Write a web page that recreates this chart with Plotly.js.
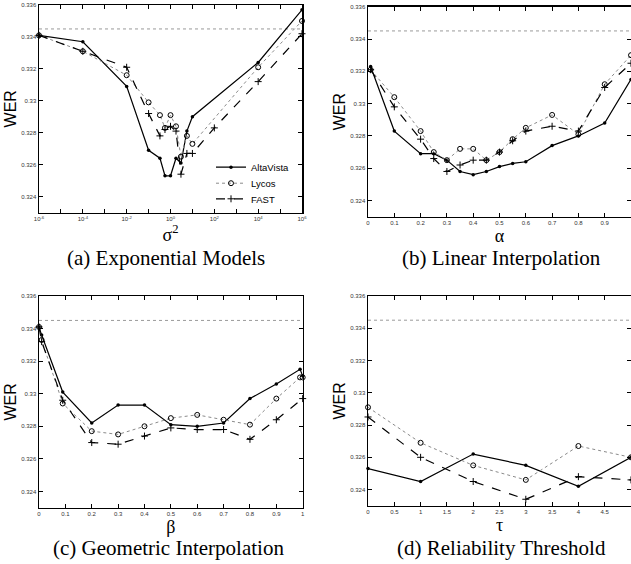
<!DOCTYPE html>
<html><head><meta charset="utf-8">
<script src="https://cdn.plot.ly/plotly-3.0.1.min.js"></script>
<style>html,body{margin:0;padding:0;background:#fff}</style>
</head><body><div id="chart" style="width:631px;height:564px"></div>
<script>
const seriesNames = ['AltaVista', 'Lycos', 'FAST'];
const baselineWER = 0.3345;

// (a) Exponential Models
const sigma2 = [1e-6, 1e-4, 1e-2, 0.1, 0.33, 0.56, 1, 1.78, 3, 5.6, 10, 1e4, 1e6];
const sigma2Fast = [1e-6, 1e-4, 1e-2, 0.1, 0.33, 0.56, 1, 1.78, 3, 5.6, 10, 100, 1e4, 1e6];
const werA_alta  = [0.3341, 0.3337, 0.3309, 0.3269, 0.3264, 0.3253, 0.3253, 0.3264, 0.3261, 0.3281, 0.3290, 0.3324, 0.3357];
const werA_lycos = [0.3341, 0.3331, 0.3316, 0.3299, 0.3291, 0.3283, 0.3291, 0.3284, 0.3265, 0.3278, 0.3273, 0.3321, 0.3350];
const werA_fast  = [0.3341, 0.3331, 0.3321, 0.3292, 0.3278, 0.3282, 0.3284, 0.3281, 0.3254, 0.3267, 0.3267, 0.3283, 0.3312, 0.3342];

// (b) Linear Interpolation
const alpha = [0.01, 0.1, 0.2, 0.25, 0.3, 0.35, 0.4, 0.45, 0.5, 0.55, 0.6, 0.7, 0.8, 0.9, 1.0];
const werB_alta  = [0.3323, 0.3283, 0.3269, 0.3269, 0.3265, 0.3258, 0.3256, 0.3258, 0.3261, 0.3263, 0.3264, 0.3274, 0.3280, 0.3288, 0.3315];
const werB_lycos = [0.3321, 0.3304, 0.3283, 0.3270, 0.3265, 0.3272, 0.3272, 0.3265, 0.3270, 0.3278, 0.3285, 0.3293, 0.3281, 0.3312, 0.3330];
const werB_fast  = [0.3321, 0.3298, 0.3278, 0.3266, 0.3258, 0.3262, 0.3265, 0.3265, 0.3270, 0.3277, 0.3283, 0.3286, 0.3283, 0.3310, 0.3325];

// (c) Geometric Interpolation
const beta = [0, 0.01, 0.09, 0.2, 0.3, 0.4, 0.5, 0.6, 0.7, 0.8, 0.9, 0.99, 1.0];
const betaFast = [0, 0.01, 0.09, 0.2, 0.3, 0.4, 0.5, 0.6, 0.7, 0.8, 0.9, 1.0];
const werC_alta  = [0.3341, 0.3336, 0.3301, 0.3282, 0.3293, 0.3293, 0.3281, 0.3280, 0.3282, 0.3297, 0.3306, 0.3315, 0.3311];
const werC_lycos = [0.3341, 0.3333, 0.3294, 0.3277, 0.3275, 0.3280, 0.3285, 0.3287, 0.3284, 0.3281, 0.3297, 0.3310, 0.3310];
const werC_fast  = [0.3341, 0.3332, 0.3296, 0.3270, 0.3269, 0.3274, 0.3279, 0.3278, 0.3278, 0.3272, 0.3284, 0.3297];

// (d) Reliability Threshold
const tau = [0, 1, 2, 3, 4, 5];
const werD_alta  = [0.3253, 0.3245, 0.3262, 0.3255, 0.3242, 0.3260];
const werD_lycos = [0.3291, 0.3269, 0.3255, 0.3246, 0.3267, 0.3260];
const werD_fast  = [0.3285, 0.3260, 0.3245, 0.3234, 0.3248, 0.3246];

const yTickVals = [0.324, 0.326, 0.328, 0.330, 0.332, 0.334, 0.336];
const yTickText = ['0.324', '0.326', '0.328', '0.33', '0.332', '0.334', '0.336'];
const xTicksA = [1e-6, 1e-4, 1e-2, 1, 100, 1e4, 1e6];
const xTickTextA = ['10<sup>-6</sup>', '10<sup>-4</sup>', '10<sup>-2</sup>', '10<sup>0</sup>', '10<sup>2</sup>', '10<sup>4</sup>', '10<sup>6</sup>'];
const xMinorA = [1e-5, 1e-3, 1e-1, 10, 1e3, 1e5];
const xTicksB = [0, 0.1, 0.2, 0.3, 0.4, 0.5, 0.6, 0.7, 0.8, 0.9];
const xTickTextB = ['0', '0.1', '0.2', '0.3', '0.4', '0.5', '0.6', '0.7', '0.8', '0.9'];
const xTicksC = [0, 0.1, 0.2, 0.3, 0.4, 0.5, 0.6, 0.7, 0.8, 0.9, 1];
const xTickTextC = ['0', '0.1', '0.2', '0.3', '0.4', '0.5', '0.6', '0.7', '0.8', '0.9', '1'];
const xTicksD = [0, 0.5, 1, 1.5, 2, 2.5, 3, 3.5, 4, 4.5, 5];
const xTickTextD = ['0', '0.5', '1', '1.5', '2', '2.5', '3', '3.5', '4', '4.5', '5'];

const styles = [
  {line: {color: '#000', width: 1.2, dash: 'solid'}, marker: {symbol: 'circle', size: 3.5, color: '#000'}},
  {line: {color: '#8a8a8a', width: 1, dash: 'dot'}, marker: {symbol: 'circle-open', size: 5, color: '#000', line: {width: 1, color: '#000'}}},
  {line: {color: '#000', width: 1.2, dash: 'dash'}, marker: {symbol: 'cross-thin-open', size: 5, color: '#000', line: {width: 1, color: '#000'}}}
];
const legendIds = ['legend', 'legend2', 'legend3'];

const panels = [
  {xa: 'x', ya: 'y', xs: [sigma2, sigma2, sigma2Fast], ys: [werA_alta, werA_lycos, werA_fast], xr: [1e-6, 1e6]},
  {xa: 'x2', ya: 'y2', xs: [alpha, alpha, alpha], ys: [werB_alta, werB_lycos, werB_fast], xr: [0, 1]},
  {xa: 'x3', ya: 'y3', xs: [beta, beta, betaFast], ys: [werC_alta, werC_lycos, werC_fast], xr: [0, 1]},
  {xa: 'x4', ya: 'y4', xs: [tau, tau, tau], ys: [werD_alta, werD_lycos, werD_fast], xr: [0, 5]}
];

const traces = [];
panels.forEach((p, pi) => {
  traces.push({
    x: p.xr, y: [baselineWER, baselineWER], xaxis: p.xa, yaxis: p.ya,
    mode: 'lines', line: {color: '#9a9a9a', width: 1, dash: 'dot'},
    showlegend: false, hoverinfo: 'skip'
  });
  for (let s = 0; s < 3; s++) {
    traces.push({
      x: p.xs[s], y: p.ys[s], xaxis: p.xa, yaxis: p.ya,
      mode: 'lines+markers', name: seriesNames[s],
      line: styles[s].line, marker: styles[s].marker,
      showlegend: pi === 0, legend: legendIds[s], cliponaxis: false
    });
  }
});

function ax(extra) {
  return Object.assign({
    showline: true, linecolor: '#000', linewidth: 1.5, mirror: 'ticks',
    ticks: 'inside', ticklen: 4, tickwidth: 1, tickcolor: '#000',
    showgrid: false, zeroline: false,
    tickfont: {family: 'Liberation Sans, Arial, sans-serif', size: 6, color: '#333'}
  }, extra);
}
const W = 631, H = 564;
const xd = (a, b) => [a / W, b / W];
const yd = (top, bot) => [1 - bot / H, 1 - top / H];
const yTitle = {text: 'WER', font: {family: 'Liberation Sans, Arial, sans-serif', size: 16, color: '#000'}, standoff: 0};
const xTitleFont = {family: 'Liberation Serif, Times New Roman, serif', size: 18, color: '#000'};
const yCommon = {range: [0.323, 0.336], tickvals: yTickVals, ticktext: yTickText, title: yTitle};
const legendFont = {family: 'Liberation Sans, Arial, sans-serif', size: 9.5, color: '#000'};
const legendBase = (top) => ({x: 211 / W, y: 1 - top / H, xanchor: 'left', yanchor: 'top',
                              bgcolor: 'rgba(0,0,0,0)', font: legendFont, itemwidth: 30});

const layout = {
  width: W, height: H,
  margin: {l: 0, r: 0, t: 0, b: 0},
  paper_bgcolor: '#fff', plot_bgcolor: '#fff',
  showlegend: true,
  legend: legendBase(152.7),
  legend2: legendBase(168.7),
  legend3: legendBase(184.3),
  xaxis: ax({domain: xd(39, 302), anchor: 'y', type: 'log', range: [-6, 6], tickvals: xTicksA, ticktext: xTickTextA,
             minor: {tickvals: xMinorA, ticks: 'inside', ticklen: 4, tickwidth: 1, tickcolor: '#000', showgrid: false},
             title: {text: 'σ<sup>2</sup>', font: xTitleFont, standoff: 0}}),
  yaxis: ax(Object.assign({domain: yd(5, 212.5), anchor: 'x'}, yCommon)),
  xaxis2: ax({domain: xd(368, 631), anchor: 'y2', range: [0, 1], tickvals: xTicksB, ticktext: xTickTextB,
             title: {text: 'α', font: xTitleFont, standoff: 0}}),
  yaxis2: ax(Object.assign({domain: yd(6.7, 216.7), anchor: 'x2'}, yCommon)),
  xaxis3: ax({domain: xd(39, 302.7), anchor: 'y3', range: [0, 1], tickvals: xTicksC, ticktext: xTickTextC,
             title: {text: 'β', font: xTitleFont, standoff: 0}}),
  yaxis3: ax(Object.assign({domain: yd(296, 507.7), anchor: 'x3'}, yCommon)),
  xaxis4: ax({domain: xd(368, 631), anchor: 'y4', range: [0, 5], tickvals: xTicksD, ticktext: xTickTextD,
             title: {text: 'τ', font: xTitleFont, standoff: 0}}),
  yaxis4: ax(Object.assign({domain: yd(296, 505.7), anchor: 'x4'}, yCommon)),
  annotations: [
    {text: '(a) Exponential Models', x: 166 / W, y: 1 - 258 / H},
    {text: '(b) Linear Interpolation', x: 501 / W, y: 1 - 258 / H},
    {text: '(c) Geometric Interpolation', x: 168 / W, y: 1 - 548 / H},
    {text: '(d) Reliability Threshold', x: 501 / W, y: 1 - 548 / H}
  ].map(a => Object.assign({xref: 'paper', yref: 'paper', xanchor: 'center', yanchor: 'middle', showarrow: false,
                            font: {family: 'Liberation Serif, Times New Roman, serif', size: 21, color: '#000'}}, a))
};

Plotly.newPlot('chart', traces, layout, {staticPlot: true, displayModeBar: false});
</script>
</body></html>
